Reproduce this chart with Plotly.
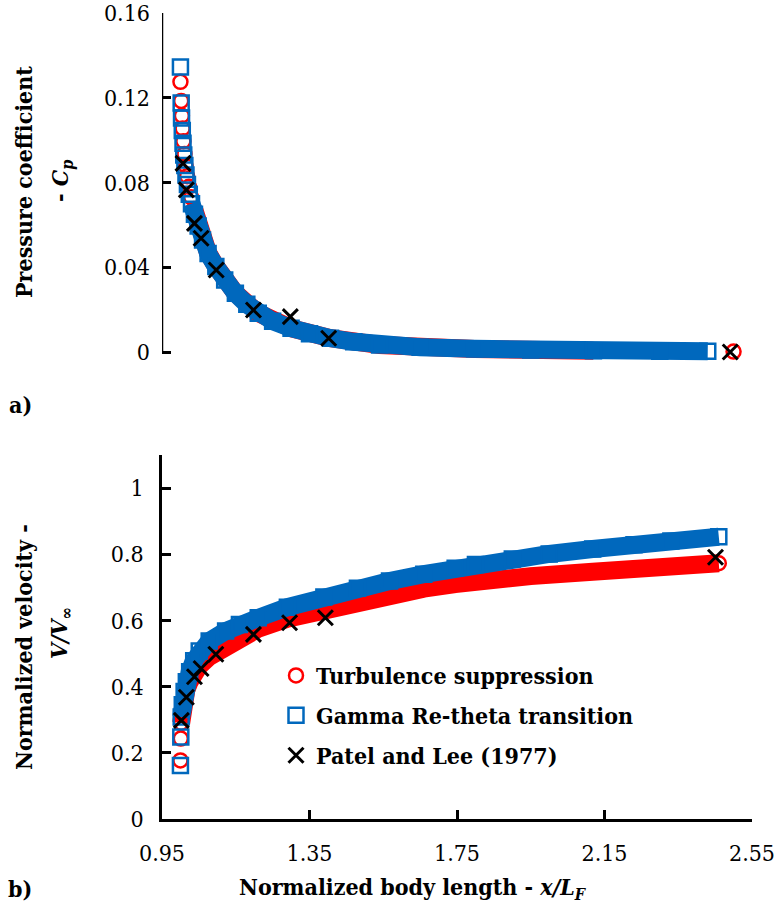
import plotly.graph_objects as go

# ---------------- data ----------------
# a) pressure coefficient -Cp along the body
cp_x_gamma = [1.000, 1.002, 1.003, 1.005, 1.007, 1.009, 1.012, 1.015, 1.019, 1.024, 1.030,
              1.038, 1.048, 1.060, 1.075, 1.096, 1.120, 1.149, 1.180, 1.211, 1.250, 1.300,
              1.350, 1.407, 1.470, 1.540, 1.650, 1.798, 1.950, 2.120, 2.300, 2.430]
cp_gamma = [0.1345, 0.1175, 0.1105, 0.1045, 0.0985, 0.0930, 0.0880, 0.0835, 0.0790, 0.0745,
            0.0700, 0.0650, 0.0595, 0.0529, 0.0465, 0.0403, 0.0340, 0.0277, 0.0225, 0.0183,
            0.0145, 0.0112, 0.0086, 0.0065, 0.0048, 0.0033, 0.0022, 0.0015, 0.0010, 0.0006,
            0.0004, 0.0003]

cp_x_turb = [1.000, 1.002, 1.004, 1.006, 1.008, 1.011, 1.014, 1.018, 1.023, 1.029, 1.037,
             1.047, 1.060, 1.075, 1.096, 1.149, 1.211, 1.300, 1.407, 1.540, 1.798, 2.120, 2.500]
cp_turb = [0.1275, 0.1185, 0.1115, 0.1055, 0.0995, 0.0935, 0.0880, 0.0830, 0.0780, 0.0730,
           0.0675, 0.0610, 0.0535, 0.0468, 0.0405, 0.0278, 0.0184, 0.0112, 0.0065, 0.0033,
           0.0014, 0.0006, 0.0002]

cp_x_patel = [1.007, 1.016, 1.038, 1.056, 1.097, 1.198, 1.298, 1.402, 2.491]
cp_patel = [0.089, 0.0765, 0.0607, 0.0537, 0.0387, 0.0198, 0.0167, 0.0065, 0.0]

# b) normalized velocity V/V_inf along the body
v_x_gamma = [1.000, 1.001, 1.002, 1.005, 1.010, 1.016, 1.025, 1.036, 1.051, 1.078, 1.1225,
             1.160, 1.211, 1.290, 1.389, 1.480, 1.567, 1.660, 1.745, 1.800, 1.900, 2.000,
             2.118, 2.230, 2.330, 2.460]
v_gamma = [0.162, 0.248, 0.308, 0.345, 0.385, 0.415, 0.445, 0.478, 0.508, 0.538, 0.568,
           0.588, 0.608, 0.640, 0.671, 0.697, 0.719, 0.740, 0.758, 0.769, 0.786, 0.801,
           0.816, 0.829, 0.840, 0.853]

v_x_turb = [1.000, 1.001, 1.002, 1.005, 1.010, 1.016, 1.025, 1.036, 1.051, 1.078, 1.1225,
            1.160, 1.211, 1.290, 1.389, 1.480, 1.567, 1.660, 1.745, 1.825, 1.950, 2.118,
            2.230, 2.330, 2.460]
v_turb = [0.177, 0.243, 0.290, 0.325, 0.360, 0.390, 0.415, 0.440, 0.462, 0.490, 0.520,
          0.548, 0.575, 0.605, 0.631, 0.656, 0.678, 0.696, 0.710, 0.721, 0.734, 0.747,
          0.756, 0.764, 0.773]

v_x_patel = [1.0025, 1.016, 1.038, 1.056, 1.096, 1.198, 1.296, 1.393, 2.451]
v_patel = [0.298, 0.368, 0.430, 0.455, 0.498, 0.558, 0.593, 0.608, 0.791]

series_names = ["Turbulence suppression", "Gamma Re-theta transition", "Patel and Lee (1977)"]

x_ticks = [0.95, 1.35, 1.75, 2.15, 2.55]
x_ticklabels = ["0.95", "1.35", "1.75", "2.15", "2.55"]
cp_ticks = [0, 0.04, 0.08, 0.12, 0.16]
cp_ticklabels = ["0", "0.04", "0.08", "0.12", "0.16"]
v_ticks = [0, 0.2, 0.4, 0.6, 0.8, 1.0]
v_ticklabels = ["0", "0.2", "0.4", "0.6", "0.8", "1"]

# ---------------- styling ----------------
W, H = 775, 909
L, R, T, B = 162, 23, 13, 90
PLOT_H = H - T - B
SERIF = "DejaVu Serif Condensed"
RED = "#ff0000"
BLUE = "#0068bd"
BAND = 18
TICK_SIZE = 23
TEXT_SIZE = 23

CP_RANGE = [-0.0045, 0.16]
CP_PX_TOP, CP_PX_ZERO = 13, 352          # pixel rows of Cp = 0.16 and Cp = 0
cp_px_per_unit = (CP_PX_ZERO - CP_PX_TOP) / 0.16
cp_px_bottom = CP_PX_ZERO - CP_RANGE[0] * cp_px_per_unit


def paper_x(px):
    return (px - L) / (W - L - R)


def paper_y(py):
    return (H - B - py) / PLOT_H


top_domain = [paper_y(cp_px_bottom), 1.0]
bot_domain = [0.0, paper_y(455)]

fig = go.Figure()


def add_series(xs, ys, band_from, band_to, color, symbol, msize, name, xa, ya, legend):
    # thick band through the dense part of the series
    fig.add_trace(go.Scatter(
        x=xs[band_from:band_to], y=ys[band_from:band_to], mode="lines", xaxis=xa, yaxis=ya,
        line=dict(color=color, width=BAND), showlegend=False, hoverinfo="skip",
        legendgroup=name))
    # open markers for every sample
    fig.add_trace(go.Scatter(
        x=xs, y=ys, mode="markers", xaxis=xa, yaxis=ya, name=name,
        marker=dict(symbol=symbol, size=msize, color=color, line=dict(color=color, width=2.5)),
        cliponaxis=False, showlegend=legend, legendgroup=name))


def add_patel(xs, ys, xa, ya, legend):
    fig.add_trace(go.Scatter(
        x=xs, y=ys, mode="markers", xaxis=xa, yaxis=ya, name=series_names[2],
        marker=dict(symbol="x-thin", size=15, color="black", line=dict(color="black", width=3)),
        cliponaxis=False, showlegend=legend, legendgroup=series_names[2]))


# panel a)
add_series(cp_x_turb, cp_turb, 10, -1, RED, "circle-open", 14, series_names[0], "x2", "y2", False)
add_series(cp_x_gamma, cp_gamma, 10, None, BLUE, "square-open", 15, series_names[1], "x2", "y2", False)
add_patel(cp_x_patel, cp_patel, "x2", "y2", False)

# panel b)
add_series(v_x_turb, v_turb, 2, None, RED, "circle-open", 14, series_names[0], "x", "y", True)
add_series(v_x_gamma, v_gamma, 2, None, BLUE, "square-open", 15, series_names[1], "x", "y", True)
add_patel(v_x_patel, v_patel, "x", "y", True)

tick_font = dict(family=SERIF, size=TICK_SIZE, color="black")
axis_common = dict(
    linecolor="black", linewidth=2.5, mirror=False,
    ticks="inside", ticklen=9, tickwidth=2.5, tickcolor="black",
    showgrid=False, zeroline=False, ticklabeloverflow="allow",
    tickfont=tick_font,
)

fig.update_layout(
    width=W, height=H,
    margin=dict(l=L, r=R, t=T, b=B, autoexpand=False),
    paper_bgcolor="white", plot_bgcolor="white",
    font=dict(family=SERIF, size=TEXT_SIZE, color="black"),
    xaxis=dict(domain=[0, 1], anchor="y", range=[0.95, 2.55], showline=True,
               tickvals=x_ticks, ticktext=x_ticklabels, ticklabelstandoff=12, **axis_common),
    xaxis2=dict(domain=[0, 1], anchor="y2", range=[0.95, 2.55], matches="x", visible=False),
    yaxis=dict(domain=bot_domain, anchor="x", range=[0, 1.1], showline=True,
               tickvals=v_ticks, ticktext=v_ticklabels, ticklabelstandoff=11, **axis_common),
    yaxis2=dict(domain=top_domain, anchor="x2", range=CP_RANGE, showline=False,
                tickvals=cp_ticks, ticktext=cp_ticklabels, ticklabelstandoff=11, **axis_common),
    showlegend=True,
    legend=dict(
        x=paper_x(276), y=paper_y(654), xanchor="left", yanchor="top",
        bgcolor="rgba(0,0,0,0)", borderwidth=0,
        font=dict(family=SERIF, size=TEXT_SIZE, color="black", weight="bold"),
        tracegroupgap=7, itemsizing="trace", traceorder="grouped",
    ),
)

# vertical axis line of panel a), spanning 0 to 0.16
fig.add_shape(type="line", xref="x2", yref="y2", x0=0.95, x1=0.95,
              y0=cp_ticks[0], y1=cp_ticks[-1], line=dict(color="black", width=2.5), layer="above")

title_font = dict(family=SERIF, size=TEXT_SIZE, color="black")
annotations = [
    dict(text="<b>Pressure coefficient</b>", x=paper_x(23), y=paper_y(182), textangle=-90),
    dict(text="<b>- <i>C<sub>p</sub></i></b>", x=paper_x(62), y=paper_y(181), textangle=-90),
    dict(text="<b>Normalized velocity -</b>", x=paper_x(23), y=paper_y(647), textangle=-90),
    dict(text="<b><i>V/V</i><sub>∞</sub></b>", x=paper_x(60), y=paper_y(633), textangle=-90),
    dict(text="<b>Normalized body length - <i>x/L<sub>F</sub></i></b>", x=paper_x(413), y=paper_y(888)),
    dict(text="<b>a)</b>", x=paper_x(20), y=paper_y(404)),
    dict(text="<b>b)</b>", x=paper_x(20), y=paper_y(888)),
]
for a in annotations:
    fig.add_annotation(xref="paper", yref="paper", showarrow=False,
                       xanchor="center", yanchor="middle", font=title_font, **a)

fig.write_html("out.html")
